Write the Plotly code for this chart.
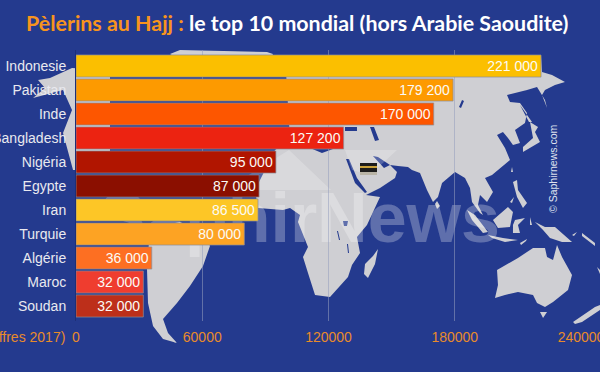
import plotly.graph_objects as go

# ---- data ----
countries = ["Indonesie", "Pakistan", "Inde", "Bangladesh", "Nigéria", "Egypte",
             "Iran", "Turquie", "Algérie", "Maroc", "Soudan"]
pilgrims = [221000, 179200, 170000, 127200, 95000, 87000, 86500, 80000, 36000, 32000, 32000]
bar_colors = ["#fbbf00", "#fd9a00", "#fd5600", "#ec2311", "#b11500", "#8b0f00",
              "#fdc626", "#fda323", "#fd6f22", "#ef3d2f", "#bd2f1a"]
x_ticks = [0, 60000, 120000, 180000, 240000]

BG = "#243a8e"
LAND = "#cfcfd3"
L, R, T, B = 76, 581, 50, 321  # plot frame in pixels


def px(points):
    """Decorative backdrop outline given in picture pixels -> paper path."""
    out = []
    for i, (x, y) in enumerate(points):
        out.append(("M" if i == 0 else "L") + f"{(x - L) / (R - L):.4f},{(B - y) / (B - T):.4f}")
    return " ".join(out) + " Z"


land = [
    # Eurasia + Africa
    [(258, 208), (283, 210), (290, 208), (300, 215), (298, 222), (308, 247), (303, 257), (308, 273),
     (315, 295), (330, 297), (348, 277), (352, 265), (360, 253), (357, 237), (367, 225), (380, 197),
     (366, 195), (380, 188), (395, 178), (397, 172), (390, 165), (398, 166), (408, 167), (412, 170),
     (420, 173), (427, 190), (433, 202), (438, 197), (442, 183), (455, 172), (465, 178), (470, 188),
     (472, 202), (480, 213), (483, 215), (478, 205), (480, 195), (487, 202), (493, 192), (485, 178),
     (492, 175), (510, 160), (505, 148), (497, 135), (503, 132), (508, 138), (513, 145), (520, 143),
     (515, 130), (525, 123), (527, 113), (520, 103), (510, 102), (507, 95), (527, 90), (537, 87),
     (545, 100), (547, 108), (542, 95), (545, 90), (555, 85), (565, 82), (552, 75), (542, 72),
     (541, 55), (285, 55), (290, 140), (275, 150), (255, 190)],
    # North America
    [(72, 68), (50, 78), (38, 80), (45, 88), (33, 98), (63, 90), (72, 110), (63, 133), (73, 170),
     (110, 170), (110, 70)],
    # Greenland
    [(170, 54), (180, 50), (267, 52), (273, 54), (270, 60), (180, 60)],
    # South America
    [(150, 228), (180, 222), (205, 232), (210, 246), (203, 266), (190, 286), (177, 303), (163, 319),
     (168, 333), (177, 343), (163, 339), (153, 326), (148, 303), (147, 269)],
    # Madagascar
    [(378, 249), (375, 264), (368, 278), (364, 274), (365, 264), (373, 256)],
    # Sri Lanka
    [(437, 201), (440, 206), (437, 209), (435, 204)],
    # Sumatra
    [(467, 210), (475, 215), (488, 232), (483, 233), (472, 220)],
    # Java
    [(488, 235), (503, 238), (518, 240), (505, 242), (492, 238)],
    # Borneo
    [(493, 220), (508, 207), (513, 212), (510, 227), (498, 228)],
    # Sulawesi
    [(515, 220), (525, 218), (518, 225), (520, 233), (513, 233), (513, 225)],
    # Philippines
    [(513, 182), (517, 180), (518, 190), (527, 203), (523, 208), (517, 197)],
    [(510, 202), (514, 197), (512, 203)],
    # New Guinea
    [(535, 222), (545, 227), (555, 227), (572, 242), (562, 242), (550, 238), (543, 230)],
    [(577, 232), (572, 235), (574, 236)],
    [(582, 233), (595, 243), (595, 246), (582, 236)],
    # Timor, Moluccas
    [(520, 243), (527, 239), (526, 241), (521, 245)],
    [(530, 217), (532, 225), (530, 225)],
    # Japan, Sakhalin, Taiwan
    [(530, 122), (538, 127), (535, 132), (540, 142), (523, 152), (523, 147), (533, 138)],
    [(520, 105), (532, 122), (529, 122)],
    [(512, 167), (513, 172), (511, 172)],
    # Australia, Tasmania
    [(497, 270), (518, 258), (533, 248), (545, 248), (547, 257), (553, 260), (557, 245), (562, 257),
     (572, 275), (568, 290), (553, 302), (545, 307), (537, 303), (533, 295), (518, 292), (505, 295),
     (495, 298), (498, 285)],
    [(540, 312), (547, 312), (543, 318)],
    # New Zealand
    [(573, 322), (595, 307), (600, 305), (600, 310), (582, 322), (575, 324)],
    [(597, 267), (600, 270), (600, 274)],
]
seas = [
    [(310, 148), (322, 153), (333, 149), (335, 143), (310, 143)],          # Mediterranean
    [(346, 159), (349, 159), (357, 178), (367, 192), (365, 193), (355, 183)],  # Red Sea
    [(373, 156), (378, 157), (390, 165), (384, 168)],                       # Gulf
    [(370, 127), (374, 127), (379, 140), (375, 141)],                       # Caspian
    [(345, 127), (357, 127), (357, 131), (345, 131)],                       # Black Sea
    [(462, 100), (464, 101), (461, 108), (459, 107)],                       # Baikal
    [(343, 221), (348, 221), (347, 226), (344, 226)],                       # Victoria
    [(337, 231), (338, 231), (340, 240), (339, 240)],                       # Tanganyika
    [(347, 244), (348, 244), (349, 253), (348, 253)],                       # Malawi
]

shapes = [dict(type="path", xref="paper", yref="paper", layer="below", line_width=0,
               fillcolor=LAND, path=" ".join(px(p) for p in land))]
shapes += [dict(type="path", xref="paper", yref="paper", layer="below", line_width=0,
                fillcolor=BG, path=" ".join(px(p) for p in seas))]

# Watermark (logo roof + word)
shapes.append(dict(type="path", xref="paper", yref="paper", layer="below", line_width=0,
                   fillcolor="rgba(255,255,255,0.22)",
                   path=px([(225, 190), (289, 150), (331, 190)]) + " " + px([(345, 150), (397, 150), (370, 175), (352, 170)])))
shapes.append(dict(type="rect", xref="paper", yref="paper", layer="below", line_width=0,
                   fillcolor="rgba(0,0,0,0)",
                   x0=(100 - L) / (R - L), x1=(506 - L) / (R - L),
                   y0=(B - 247) / (B - T), y1=(B - 175) / (B - T),
                   label=dict(text="<b>SaphirNews</b>", textposition="middle right",
                              font=dict(family="Liberation Sans", size=70, color="rgba(255,255,255,0.27)"))))

# Kaaba icon
def rect(x0, y0, x1, y1, c):
    return dict(type="rect", xref="paper", yref="paper", layer="above", line_width=0, fillcolor=c,
                x0=(x0 - L) / (R - L), x1=(x1 - L) / (R - L), y0=(B - y1) / (B - T), y1=(B - y0) / (B - T))


shapes += [rect(360, 163, 377, 175, "#1c1c1c"), rect(360, 166, 377, 168, "#c9a23c"),
           rect(360, 172, 377, 175, "#b9b4a6")]

fig = go.Figure(go.Bar(
    y=countries, x=pilgrims, orientation="h", width=0.92,
    marker=dict(color=bar_colors, line=dict(color="rgba(140,140,150,0.7)", width=1)),
    texttemplate="%{x:,.0f}", textposition="inside", insidetextanchor="end",
    textangle=0, constraintext="none",
    insidetextfont=dict(family="Liberation Sans", size=14, color="#fbfbf6"),
    hoverinfo="skip",
))

fig.update_layout(
    width=600, height=372, autosize=False,
    margin=dict(l=L, r=600 - R, t=T, b=372 - B, pad=0, autoexpand=False),
    paper_bgcolor=BG, plot_bgcolor="rgba(0,0,0,0)",
    separators=", ", showlegend=False, shapes=shapes,
    font=dict(family="Liberation Sans"),
    title=dict(
        text="<span style='color:#f7941d'>Pèlerins au Hajj :</span> le top 10 mondial (hors Arabie Saoudite)",
        x=26 / 600, xanchor="left", y=1 - 24 / 372, yanchor="middle",
        font=dict(family="Lato", size=21.4, color="#ffffff", weight=700),
    ),
    xaxis=dict(range=[0, 240000], tickvals=x_ticks, tickformat="d", showgrid=True, automargin=False,
               gridcolor="rgba(150,158,190,0.55)", gridwidth=1, zeroline=False, ticks="",
               tickfont=dict(family="Liberation Sans", size=14, color="#e88b2a"),
               ticklabeloverflow="allow", ticklabelstandoff=6),
    yaxis=dict(autorange=False, range=[10.5 + 3 / 24, -0.5 - 4 / 24], type="category", showgrid=False,
               zeroline=False, showline=True, linecolor="#1d2f78", linewidth=1, ticks="", automargin=False,
               tickfont=dict(family="Liberation Sans", size=14, color="#e9e9ef"),
               ticklabeloverflow="allow", ticklabelstandoff=6),
    annotations=[
        dict(text="(Chiffres 2017)", xref="paper", yref="paper", x=(67 - L) / (R - L), y=(B - 337) / (B - T),
             xanchor="right", yanchor="middle", showarrow=False,
             font=dict(family="Liberation Sans", size=14, color="#e88b2a")),
        dict(text="© Saphirnews.com", xref="paper", yref="paper", x=(553 - L) / (R - L), y=(B - 169) / (B - T),
             xanchor="center", yanchor="middle", textangle=-90, showarrow=False,
             font=dict(family="Liberation Sans", size=10.5, color="#dfe2ee")),
    ],
)

fig.write_html("out.html", config={"displayModeBar": False},
               post_script="document.body.style.margin='0';document.body.style.background='%s';document.body.style.overflow='hidden';" % BG)
